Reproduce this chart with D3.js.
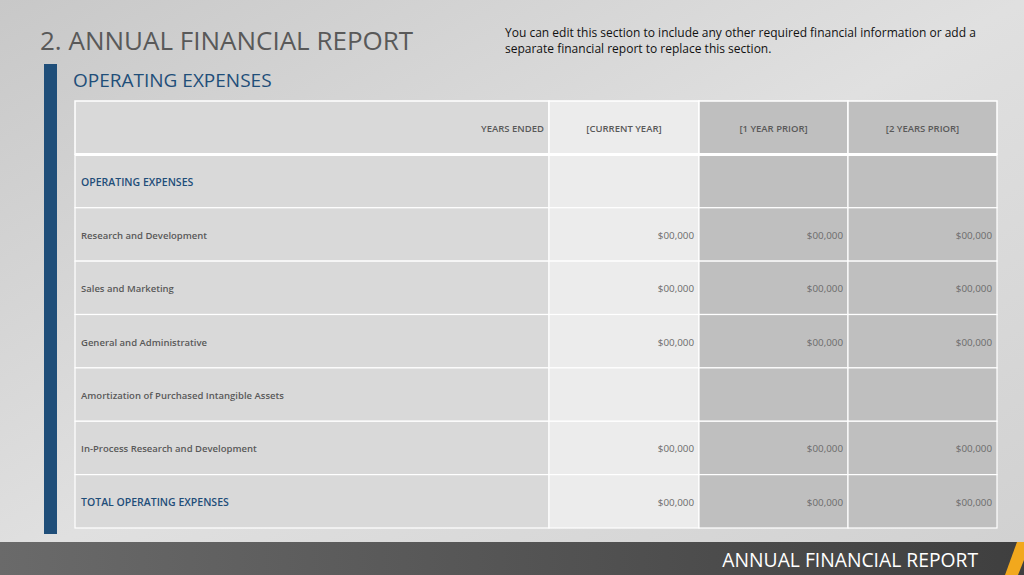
<!DOCTYPE html><html><head><meta charset="utf-8">
<script src="https://cdn.jsdelivr.net/npm/d3@7"></script>
<style>body{margin:0;overflow:hidden}svg{display:block;font-family:"Open Sans",sans-serif}</style></head><body>
<script>
const headers=["YEARS ENDED","[CURRENT YEAR]","[1 YEAR PRIOR]","[2 YEARS PRIOR]"];
const rowLabels=["OPERATING EXPENSES","Research and Development","Sales and Marketing","General and Administrative","Amortization of Purchased Intangible Assets","In-Process Research and Development","TOTAL OPERATING EXPENSES"];
const currentYear=["","$00,000","$00,000","$00,000","","$00,000","$00,000"];
const oneYearPrior=["","$00,000","$00,000","$00,000","","$00,000","$00,000"];
const twoYearsPrior=["","$00,000","$00,000","$00,000","","$00,000","$00,000"];
const emphasis=[true,false,false,false,false,false,true];

const W=1024,H=575;
const svg=d3.select("body").append("svg").attr("width",W).attr("height",H);
const defs=svg.append("defs");
const bg=defs.append("linearGradient").attr("id","bg").attr("x1","0").attr("y1","0").attr("x2","1").attr("y2","1");
bg.append("stop").attr("offset","0").attr("stop-color","#c8c8c8");
bg.append("stop").attr("offset","0.5").attr("stop-color","#e0e0e0");
bg.append("stop").attr("offset","1").attr("stop-color","#d0d0d0");
svg.append("rect").attr("width",W).attr("height",H).attr("fill","url(#bg)");
const fb=defs.append("linearGradient").attr("id","fb");
fb.append("stop").attr("offset","0").attr("stop-color","#6a6a6a");
fb.append("stop").attr("offset","1").attr("stop-color","#3f3f3f");
svg.append("rect").attr("y",542).attr("width",W).attr("height",33).attr("fill","url(#fb)");
svg.append("path").attr("d","M1005,575 L1017,542 L1024,542 L1024,560 L1018,575Z").attr("fill","#f2a81d");
svg.append("text").attr("x",978).attr("y",567).attr("text-anchor","end").attr("font-size",19.3).attr("fill","#fff").text("ANNUAL FINANCIAL REPORT");

svg.append("text").attr("x",40).attr("y",50).attr("font-size",26).attr("fill","#595959").text("2. ANNUAL FINANCIAL REPORT");
svg.append("text").attr("x",505).attr("y",37).attr("font-size",12).attr("fill","#111").text("You can edit this section to include any other required financial information or add a");
svg.append("text").attr("x",505).attr("y",53).attr("font-size",12).attr("fill","#111").text("separate financial report to replace this section.");
svg.append("rect").attr("x",44).attr("y",64).attr("width",13).attr("height",470).attr("fill","#1f4e79");
svg.append("text").attr("x",73).attr("y",87).attr("font-size",19).attr("fill","#1f4e79").text("OPERATING EXPENSES");

const x=d3.scaleOrdinal().domain([0,1,2,3,4]).range([75,549,699,848,997]);
const y=d3.scaleLinear().domain([0,8]).range([101,528]);
const colFill=["#d9d9d9","#ececec","#bfbfbf","#bfbfbf"];
const cols=[rowLabels,currentYear,oneYearPrior,twoYearsPrior];
const rows=[headers.map(h=>h)].concat(rowLabels.map((l,i)=>cols.map(c=>c[i])));
rows.forEach((r,ri)=>{
  r.forEach((v,ci)=>{
    const x0=x(ci),x1=x(ci+1),y0=y(ri),y1=y(ri+1);
    svg.append("rect").attr("x",x0).attr("y",y0).attr("width",x1-x0).attr("height",y1-y0)
      .attr("fill",colFill[ci]).attr("stroke","#fff").attr("stroke-width",ri==0?1.5:1.2);
    if(!v)return;
    const t=svg.append("text").attr("y",(y0+y1)/2+4.5).attr("font-size",ri==0?9.5:(ci==0?9.5:9.8));
    if(ri==0){
      t.attr("font-weight",600).attr("fill","#595959");
      if(ci==0)t.attr("x",x1-5).attr("text-anchor","end");else t.attr("x",(x0+x1)/2).attr("text-anchor","middle");
    }else if(ci==0){
      const e=emphasis[ri-1];
      t.attr("x",x0+6).attr("font-weight",600).attr("fill",e?"#1f4e79":"#595959").attr("font-size",e?10.5:9.5);
    }else t.attr("x",x1-5).attr("text-anchor","end").attr("fill","#6b6b6b");
    t.text(v);
  });
});
svg.append("line").attr("x1",75).attr("x2",997).attr("y1",y(1)).attr("y2",y(1)).attr("stroke","#fff").attr("stroke-width",3);
</script></body></html>
